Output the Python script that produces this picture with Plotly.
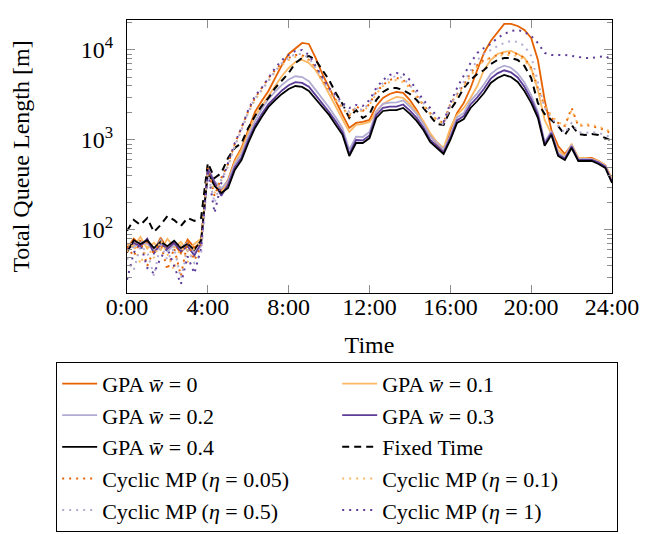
import plotly.graph_objects as go

# sampling grid: every 20 minutes over one day
minutes = list(range(0, 1441, 20))
hours = [m / 60 for m in minutes]

gpa_0 = [62, 80, 68, 74, 58, 82, 62, 70, 55, 78, 64, 72,
         480, 333, 278, 359, 599, 815,
         1290, 2050, 2710, 3500, 4890, 6810, 9030, 10500, 11960, 11660,
         8150, 5410, 3780, 2710, 1900, 1360, 1545, 1585, 1670, 2390,
         2930, 3245, 3415, 3330, 2780, 2150, 1545, 1137, 903, 755,
         1290, 2000, 2580, 3780, 5990, 9260, 12590, 15850, 19450, 19450,
         18480, 16680, 13590, 7740, 2780, 1290, 858, 699, 880, 631,
         631, 631, 584, 527, 359]

gpa_01 = [70, 66, 84, 62, 72, 60, 80, 64, 74, 58, 70, 80,
          464, 324, 264, 341, 570, 774,
          1197, 1848, 2388, 3081, 3981, 5140, 6310, 7356, 7740, 7170,
          5990, 4525, 3245, 2326, 1670, 1227, 1468, 1506, 1585, 2048,
          2512, 2780, 3006, 2929, 2512, 2048, 1626, 1197, 950, 815,
          1360, 1896, 2268, 2929, 3981, 5990, 7740, 9027, 9500, 9750,
          9027, 8150, 6310, 3590, 1670, 1166, 774, 664, 903, 631,
          631, 615, 584, 527, 376]

gpa_02 = [66, 64, 75, 70, 60, 78, 58, 68, 64, 72, 56, 66,
          500, 350, 290, 350, 540, 700,
          1100, 1620, 2200, 2850, 3450, 4100, 4700, 5100, 5000, 4500,
          3600, 2900, 2300, 1780, 1350, 780, 1090, 1080, 1230, 2080,
          2520, 2600, 2620, 2750, 2350, 1950, 1520, 1100, 930, 780,
          1120, 1780, 2000, 2720, 3300, 4150, 5400, 6200, 6700, 6350,
          5500, 4350, 3150, 2050, 950, 1250, 720, 640, 880, 610,
          615, 610, 570, 515, 350]

gpa_03 = [60, 72, 66, 80, 55, 70, 62, 72, 58, 66, 52, 72,
          470, 330, 240, 320, 500, 640,
          1000, 1460, 1950, 2500, 3000, 3550, 4050, 4400, 4300, 3900,
          3150, 2550, 2050, 1600, 1220, 700, 1000, 990, 1120, 1900,
          2280, 2350, 2350, 2480, 2120, 1760, 1380, 1010, 860, 730,
          1060, 1650, 1850, 2480, 2980, 3700, 4800, 5500, 5950, 5650,
          4950, 3900, 2850, 1900, 900, 1200, 690, 620, 850, 600,
          600, 600, 560, 505, 345]

gpa_04 = [56, 77, 70, 77, 63, 74, 66, 76, 63, 70, 60, 77,
          430, 308, 258, 293, 464, 599,
          926, 1360, 1800, 2330, 2780, 3250, 3690, 3980, 3880, 3500,
          2850, 2330, 1900, 1470, 1140, 664, 926, 926, 1050, 1760,
          2100, 2150, 2150, 2270, 1950, 1630, 1290, 950, 815, 700,
          1000, 1550, 1710, 2270, 2710, 3330, 4300, 4890, 5280, 5010,
          4410, 3500, 2580, 1760, 860, 1140, 664, 599, 815, 584,
          584, 584, 541, 489, 333]

fixed_time = [98, 129, 114, 136, 95, 114, 143, 129, 111, 136, 126, 136,
              555, 378, 430, 631, 815, 926,
              1360, 1848, 2388, 2929, 3782, 4640, 5550, 7170, 8150, 8580,
              7740, 5990, 4640, 3328, 2512, 1755, 2154, 1755, 1945, 2780,
              3415, 3782, 3782, 3590, 3245, 2780, 2268, 1848, 1506, 1468,
              2154, 2780, 3782, 4640, 5412, 5990, 6985, 7740, 8150, 8150,
              7740, 6640, 4885, 2577, 1945, 1670, 1430, 1137, 1468, 1166,
              1137, 1166, 1137, 1053, 975]

cmp_005 = [66, 51, 77, 40, 60, 70, 36, 63, 31, 74, 46, 66,
           489, 239, 378, 541, 903, 1360,
           2100, 2929, 3782, 4885, 5990, 7170, 8150, 8800, 8800, 7740,
           6310, 4640, 3503, 2780, 2268, 1848, 2388, 2100, 2512, 3415,
           4084, 4640, 4885, 4640, 3981, 3081, 2450, 1995, 1670, 1545,
           2512, 3245, 4084, 5550, 6810, 7740, 8150, 8800, 9261, 9261,
           9027, 8150, 6310, 3782, 2388, 1755, 1545, 1430, 2268, 1430,
           1468, 1430, 1360, 1292, 1166]

cmp_01 = [57, 70, 42, 66, 49, 77, 54, 36, 70, 44, 63, 74,
          453, 258, 359, 514, 858, 1292,
          1995, 2780, 3590, 4525, 5700, 6810, 7740, 8360, 8360, 7550,
          5990, 4411, 3415, 2712, 2210, 1896, 2268, 2048, 2450, 3245,
          3981, 4411, 4640, 4411, 3782, 3006, 2388, 1945, 1670, 1506,
          2388, 3081, 3981, 5275, 6640, 7550, 8150, 8580, 8800, 8800,
          8580, 7740, 5990, 3590, 2450, 1848, 1585, 1430, 2154, 1468,
          1506, 1468, 1394, 1327, 1197]

cmp_05 = [49, 36, 66, 57, 31, 70, 46, 63, 29, 60, 43, 54,
          430, 200, 359, 514, 858, 1292,
          2048, 2929, 3590, 4640, 5843, 7170, 8150, 9027, 9027, 8150,
          6310, 4885, 3590, 2929, 2450, 2048, 2268, 2154, 2577, 3590,
          4299, 4885, 5140, 4885, 4084, 3328, 2577, 2100, 1755, 1468,
          2388, 3328, 4411, 5990, 7740, 9027, 10000, 11070, 11960, 12590,
          12270, 11070, 8580, 4299, 2268, 1755, 1430, 1197, 1545, 1227,
          1197, 1227, 1197, 1137, 1053]

cmp_1 = [28, 56, 70, 38, 33, 49, 63, 40, 25, 51, 33, 63,
         464, 155, 333, 555, 926, 1360,
         2154, 3081, 3782, 4885, 6310, 7740, 8800, 9750, 10000, 8800,
         6640, 5140, 3782, 3160, 2577, 2268, 2450, 2388, 2780, 3782,
         4640, 5270, 5550, 5412, 4640, 3590, 2780, 2268, 1848, 1585,
         2577, 3782, 5140, 7170, 9261, 10525, 11660, 13590, 15060, 16260,
         16680, 15850, 14300, 11960, 9261, 8800, 8800, 8800, 8580, 8360,
         8150, 8150, 8360, 8580, 7740]

x_tick_hours = [0, 4, 8, 12, 16, 20, 24]
x_tick_labels = ["0:00", "4:00", "8:00", "12:00", "16:00", "20:00", "24:00"]
y_tick_vals = [100, 1000, 10000]
y_tick_labels = ["10<sup>2</sup>", "10<sup>3</sup>", "10<sup>4</sup>"]
y_minor_vals = [20, 30, 40, 50, 60, 70, 80, 90,
                200, 300, 400, 500, 600, 700, 800, 900,
                2000, 3000, 4000, 5000, 6000, 7000, 8000, 9000, 20000]

series = [
    ("GPA <i>w̄</i> = 0", gpa_0, "#e66101", "solid"),
    ("GPA <i>w̄</i> = 0.1", gpa_01, "#fdb863", "solid"),
    ("GPA <i>w̄</i> = 0.2", gpa_02, "#b2abd2", "solid"),
    ("GPA <i>w̄</i> = 0.3", gpa_03, "#5e3c99", "solid"),
    ("GPA <i>w̄</i> = 0.4", gpa_04, "#000000", "solid"),
    ("Fixed Time", fixed_time, "#000000", "7px,5px"),
    ("Cyclic MP (<i>η</i> = 0.05)", cmp_005, "#e66101", "2px,5px"),
    ("Cyclic MP (<i>η</i> = 0.1)", cmp_01, "#fdb863", "2px,5px"),
    ("Cyclic MP (<i>η</i> = 0.5)", cmp_05, "#b2abd2", "2px,5px"),
    ("Cyclic MP (<i>η</i> = 1)", cmp_1, "#5e3c99", "2px,5px"),
]

FONT = "Liberation Serif, Times New Roman, serif"
FS = 24
LFS = 22

fig = go.Figure()
for name, vals, color, dash in series:
    fig.add_trace(go.Scatter(
        x=hours, y=vals, mode="lines", name=name,
        line=dict(color=color, width=2 if dash != "solid" else 1.8, dash=dash),
    ))

fig.update_layout(
    width=662, height=534,
    margin=dict(l=119, r=58, t=12, b=249, autoexpand=False),
    paper_bgcolor="white", plot_bgcolor="white",
    font=dict(family=FONT, size=FS, color="black"),
    showlegend=True,
    legend=dict(
        orientation="h", x=-0.146, xanchor="left", y=-0.252, yanchor="top",
        entrywidth=230, entrywidthmode="pixels",
        bordercolor="black", borderwidth=1, bgcolor="white",
        font=dict(family=FONT, size=LFS, color="black"),
        itemwidth=35, maxheight=400,
    ),
)

fig.update_xaxes(
    range=[0, 24], tickvals=x_tick_hours, ticktext=x_tick_labels,
    showline=True, linecolor="black", linewidth=1, mirror="ticks",
    ticks="inside", ticklen=8, tickcolor="#8c8c8c", tickwidth=1,
    showgrid=False, zeroline=False, ticklabelstandoff=-8,
    title=dict(text="Time", standoff=17, font=dict(family=FONT, size=FS)),
    tickfont=dict(family=FONT, size=FS),
)
fig.update_yaxes(
    type="log", range=[1.3, 4.333],
    tickvals=y_tick_vals, ticktext=y_tick_labels,
    showline=True, linecolor="black", linewidth=1, mirror="ticks",
    ticks="inside", ticklen=8, tickcolor="#8c8c8c", tickwidth=1,
    minor=dict(tickvals=y_minor_vals, ticks="inside", ticklen=5, tickcolor="#8c8c8c"),
    showgrid=False, zeroline=False, ticklabelstandoff=8,
    title=dict(text="Total Queue Length [m]", standoff=44, font=dict(family=FONT, size=FS)),
    tickfont=dict(family=FONT, size=FS),
)

fig.write_html("out.html")
